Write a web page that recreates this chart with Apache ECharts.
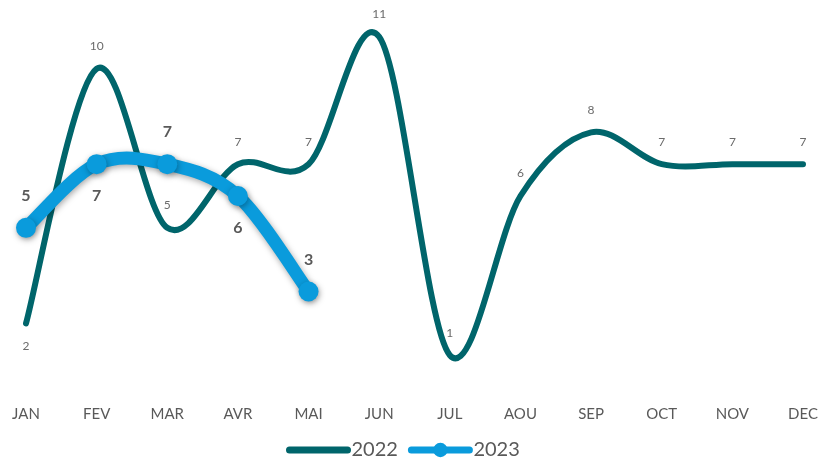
<!DOCTYPE html>
<html><head><meta charset="utf-8">
<script src="https://cdn.jsdelivr.net/npm/echarts@6/dist/echarts.min.js"></script>
<style>html,body{margin:0;padding:0;background:#fff}#c{width:821px;height:467px}</style>
</head><body><div id="c"></div>
<script>
const categories = ['JAN','FEV','MAR','AVR','MAI','JUN','JUL','AOU','SEP','OCT','NOV','DEC'];
const values2022 = [2,10,5,7,7,11,1,6,8,7,7,7];
const values2023 = [5,7,7,6,3];
const labelSide2022 = ['bottom','top','top','top','top','top','top','top','top','top','top','top'];
const labelSide2023 = ['top','bottom','top','bottom','top'];

const font = 'Lato, "Open Sans", sans-serif';
const C22 = '#00656B', C23 = '#0A9BDC';
const shadow = {shadowColor:'rgba(0,0,0,0.35)',shadowBlur:6,shadowOffsetX:1,shadowOffsetY:2};

// Smooth curve (Excel-like cardinal spline) through points mapped by the axes
function smoothCurve(values, style){
  return function(params, api){
    if (params.dataIndex !== 0) return null;
    const p = values.map((v,i)=>api.coord([i, v]));
    const n = p.length;
    let d = 'M' + p[0][0] + ' ' + p[0][1];
    for (let i=0;i<n-1;i++){
      const p0 = p[Math.max(i-1,0)], p1 = p[i], p2 = p[i+1], p3 = p[Math.min(i+2,n-1)];
      const c1 = [p1[0]+(p2[0]-p0[0])/6, p1[1]+(p2[1]-p0[1])/6];
      const c2 = [p2[0]-(p3[0]-p1[0])/6, p2[1]-(p3[1]-p1[1])/6];
      d += ' C' + c1[0]+' '+c1[1]+' '+c2[0]+' '+c2[1]+' '+p2[0]+' '+p2[1];
    }
    return {type:'path', shape:{pathData:d}, style:Object.assign({fill:null,lineCap:'round',lineJoin:'round'}, style), silent:true};
  };
}

const chart = echarts.init(document.getElementById('c'), null, {renderer:'canvas'});
chart.setOption({
  animation:false,
  textStyle:{fontFamily:font},
  grid:{left:26,right:18,top:5,bottom:80},
  xAxis:{type:'category',data:categories,boundaryGap:false,
    axisLine:{show:false},axisTick:{show:false},splitLine:{show:false},
    axisLabel:{color:'#595959',fontSize:15,margin:20,fontFamily:font}},
  yAxis:{type:'value',min:0,max:12,show:false},
  legend:{bottom:2,left:281,itemWidth:58,itemHeight:18,itemGap:10,
    textStyle:{color:'#595959',fontSize:20,fontFamily:font,padding:[0,0,0,-1]},
    data:[
      {name:'2022',itemStyle:{color:'rgba(0,0,0,0)'},lineStyle:{color:C22,width:7,opacity:1,cap:'round'}},
      {name:'2023',itemStyle:{color:C23},lineStyle:{color:C23,width:7,opacity:1,cap:'round'}}
    ]},
  series:[
    {name:'c2022',type:'custom',renderItem:smoothCurve(values2022,{stroke:C22,lineWidth:6}),
     data:values2022.map((v,i)=>[i,v]),encode:{x:0,y:1},z:2},
    {name:'c2023',type:'custom',renderItem:smoothCurve(values2023,Object.assign({stroke:C23,lineWidth:13},shadow)),
     data:values2023.map((v,i)=>[i,v]),encode:{x:0,y:1},z:3},
    {name:'2022',type:'line',showSymbol:true,symbol:'circle',symbolSize:1,
     lineStyle:{color:C22,width:6,opacity:0},itemStyle:{color:'rgba(0,0,0,0)'},
     data:values2022.map((v,i)=>({value:v,label:{show:true,position:labelSide2022[i]}})),
     label:{show:true,color:'#6b6b6b',fontSize:12,distance:16},
     emphasis:{disabled:true},z:4},
    {name:'2023',type:'line',symbol:'circle',symbolSize:20,
     lineStyle:{color:C23,width:13,opacity:0},
     itemStyle:Object.assign({color:C23},shadow),
     data:values2023.map((v,i)=>({value:v,label:{show:true,position:labelSide2023[i]}})),
     label:{show:true,color:'#595959',fontSize:16,fontWeight:'bold',distance:14},
     emphasis:{disabled:true},z:5}
  ]
});
</script></body></html>
